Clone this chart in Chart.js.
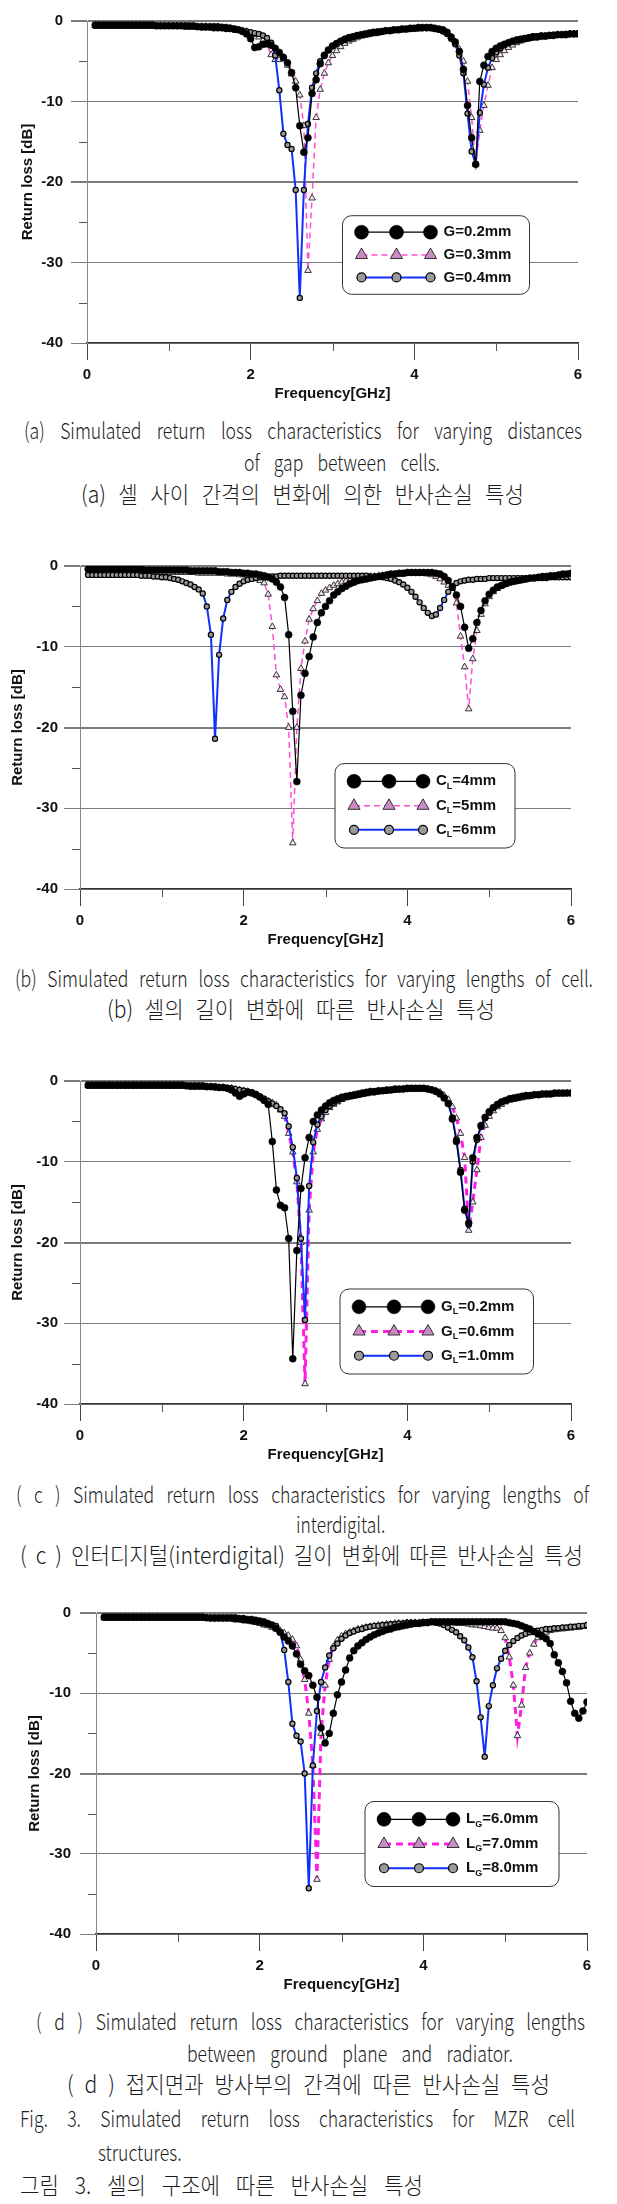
<!DOCTYPE html>
<html>
<head>
<meta charset="utf-8">
<script src="https://cdn.jsdelivr.net/npm/chart.js@4.4.1/dist/chart.umd.min.js"></script>
<style>
html, body { margin: 0; padding: 0; background: #fff; }
body { width: 617px; height: 2204px; position: relative; overflow: hidden; }
canvas { position: absolute; left: 0; }
.cap { position: absolute; white-space: nowrap; color: #1c1c1c; line-height: 28px; font-weight: 300;
       text-align: justify; text-align-last: justify; transform-origin: 0 50%; }
.en { font-family: 'Noto Sans CJK KR', 'Noto Sans', sans-serif; font-size: 22px; }
.ko { font-family: 'Noto Sans CJK KR', sans-serif; font-size: 23px; }
.word { text-align-last: left; }
</style>
</head>
<body>
<canvas id="c0"></canvas>
<canvas id="c1"></canvas>
<canvas id="c2"></canvas>
<canvas id="c3"></canvas>
<script>
// frequency sweep (GHz), shared by every curve
const freqGHz = [
  0.10,0.15,0.20,0.25,0.30,0.35,0.40,0.45,0.50,0.55,
  0.60,0.65,0.70,0.75,0.80,0.85,0.90,0.95,1.00,1.05,
  1.10,1.15,1.20,1.25,1.30,1.35,1.40,1.45,1.50,1.55,
  1.60,1.65,1.70,1.75,1.80,1.85,1.90,1.95,2.00,2.05,
  2.10,2.15,2.20,2.25,2.30,2.35,2.40,2.45,2.50,2.55,
  2.60,2.65,2.70,2.75,2.80,2.85,2.90,2.95,3.00,3.05,
  3.10,3.15,3.20,3.25,3.30,3.35,3.40,3.45,3.50,3.55,
  3.60,3.65,3.70,3.75,3.80,3.85,3.90,3.95,4.00,4.05,
  4.10,4.15,4.20,4.25,4.30,4.35,4.40,4.45,4.50,4.55,
  4.60,4.65,4.70,4.75,4.80,4.85,4.90,4.95,5.00,5.05,
  5.10,5.15,5.20,5.25,5.30,5.35,5.40,5.45,5.50,5.55,
  5.60,5.65,5.70,5.75,5.80,5.85,5.90,5.95,6.00
];

// (a) gap between cells
const g02 = [
  -0.5,-0.5,-0.5,-0.5,-0.5,-0.5,-0.5,-0.5,-0.5,-0.5,
  -0.5,-0.5,-0.5,-0.5,-0.5,-0.6,-0.6,-0.6,-0.6,-0.6,
  -0.6,-0.6,-0.6,-0.6,-0.6,-0.7,-0.7,-0.7,-0.7,-0.7,
  -0.7,-0.8,-0.8,-0.9,-1.0,-1.1,-1.3,-1.6,-2.2,-3.3,
  -3.2,-2.9,-2.8,-3.0,-3.4,-3.9,-4.5,-5.2,-6.4,-8.3,
  -13.0,-16.3,-14.5,-9.0,-7.3,-5.3,-4.3,-3.6,-3.1,-2.8,
  -2.5,-2.3,-2.1,-2.0,-1.8,-1.7,-1.6,-1.5,-1.4,-1.4,
  -1.3,-1.2,-1.2,-1.1,-1.1,-1.0,-1.0,-0.9,-0.9,-0.8,
  -0.8,-0.8,-0.8,-0.9,-1.0,-1.1,-1.4,-2.0,-2.6,-3.8,
  -6.0,-10.5,-14.5,-17.8,-7.5,-5.5,-4.4,-3.8,-3.4,-3.1,
  -2.9,-2.7,-2.5,-2.4,-2.3,-2.2,-2.1,-2.0,-2.0,-1.9,
  -1.9,-1.8,-1.8,-1.7,-1.7,-1.7,-1.6,-1.6,-1.6
];
const g03 = [
  -0.6,-0.6,-0.6,-0.6,-0.6,-0.6,-0.6,-0.6,-0.6,-0.6,
  -0.6,-0.6,-0.6,-0.6,-0.6,-0.6,-0.6,-0.6,-0.6,-0.6,
  -0.6,-0.6,-0.6,-0.7,-0.7,-0.7,-0.7,-0.7,-0.8,-0.8,
  -0.8,-0.8,-0.9,-0.9,-1.0,-1.1,-1.2,-1.3,-1.5,-1.7,
  -2.0,-2.4,-3.0,-4.2,-4.8,-4.8,-4.7,-5.5,-6.6,-7.5,
  -9.2,-13.0,-31.0,-22.0,-12.0,-8.5,-6.5,-5.2,-4.3,-3.7,
  -3.2,-2.8,-2.5,-2.3,-2.1,-1.9,-1.8,-1.7,-1.6,-1.5,
  -1.4,-1.3,-1.3,-1.2,-1.2,-1.1,-1.1,-1.0,-1.0,-1.0,
  -0.9,-0.9,-0.9,-1.0,-1.1,-1.2,-1.5,-2.0,-2.6,-3.5,
  -5.0,-7.5,-12.0,-17.8,-13.6,-10.5,-8.0,-5.8,-4.8,-4.2,
  -3.7,-3.3,-3.0,-2.7,-2.5,-2.3,-2.2,-2.1,-2.0,-1.9,
  -1.9,-1.8,-1.8,-1.7,-1.7,-1.7,-1.6,-1.6,-1.6
];
const g04 = [
  -0.6,-0.6,-0.6,-0.6,-0.6,-0.6,-0.6,-0.6,-0.6,-0.6,
  -0.6,-0.6,-0.6,-0.6,-0.6,-0.6,-0.6,-0.6,-0.6,-0.6,
  -0.6,-0.6,-0.7,-0.7,-0.7,-0.7,-0.8,-0.8,-0.8,-0.9,
  -0.9,-0.9,-1.0,-1.0,-1.1,-1.1,-1.2,-1.3,-1.4,-1.5,
  -1.6,-1.8,-2.1,-2.7,-4.3,-8.6,-14.0,-15.4,-15.9,-21.0,
  -34.4,-21.0,-12.8,-8.3,-6.5,-5.0,-4.2,-3.6,-3.1,-2.8,
  -2.5,-2.2,-2.0,-1.9,-1.8,-1.7,-1.6,-1.5,-1.4,-1.3,
  -1.3,-1.2,-1.2,-1.1,-1.1,-1.0,-1.0,-1.0,-0.9,-0.9,
  -0.9,-0.9,-0.9,-1.0,-1.1,-1.3,-1.6,-2.2,-2.9,-4.3,
  -6.5,-11.5,-16.2,-17.8,-11.4,-7.9,-5.8,-4.6,-3.9,-3.4,
  -3.0,-2.7,-2.5,-2.3,-2.2,-2.1,-2.0,-1.9,-1.9,-1.8,
  -1.8,-1.8,-1.7,-1.7,-1.7,-1.6,-1.6,-1.6,-1.5
];

// (b) cell length
const cl4 = [
  -0.4,-0.4,-0.4,-0.4,-0.4,-0.4,-0.4,-0.4,-0.4,-0.4,
  -0.4,-0.4,-0.4,-0.4,-0.5,-0.5,-0.5,-0.5,-0.5,-0.5,
  -0.5,-0.5,-0.5,-0.5,-0.5,-0.6,-0.6,-0.6,-0.6,-0.6,
  -0.6,-0.6,-0.7,-0.7,-0.7,-0.8,-0.8,-0.8,-0.9,-0.9,
  -1.0,-1.0,-1.1,-1.2,-1.4,-1.6,-2.0,-2.6,-3.9,-8.5,
  -18.0,-26.7,-16.0,-13.3,-11.2,-8.8,-7.0,-5.8,-5.0,-4.3,
  -3.6,-3.2,-2.8,-2.5,-2.2,-2.0,-1.8,-1.7,-1.6,-1.5,
  -1.4,-1.3,-1.2,-1.1,-1.0,-1.0,-0.9,-0.9,-0.8,-0.8,
  -0.8,-0.8,-0.8,-0.8,-0.8,-0.9,-1.0,-1.3,-1.8,-2.6,
  -3.6,-5.0,-7.6,-10.2,-9.0,-7.0,-5.5,-4.3,-3.5,-3.0,
  -2.6,-2.4,-2.2,-2.0,-1.9,-1.8,-1.7,-1.6,-1.5,-1.5,
  -1.4,-1.3,-1.3,-1.2,-1.2,-1.1,-1.0,-1.0,-0.9
];
const cl5 = [
  -0.8,-0.8,-0.8,-0.8,-0.8,-0.8,-0.8,-0.8,-0.8,-0.8,
  -0.8,-0.8,-0.8,-0.8,-0.8,-0.8,-0.8,-0.8,-0.8,-0.8,
  -0.8,-0.8,-0.8,-0.8,-0.8,-0.8,-0.8,-0.9,-0.9,-0.9,
  -0.9,-0.9,-0.9,-0.9,-1.0,-1.0,-1.0,-1.1,-1.1,-1.2,
  -1.3,-1.5,-1.8,-2.1,-3.5,-7.5,-13.5,-15.3,-16.2,-20.0,
  -34.3,-20.0,-12.7,-9.3,-6.6,-5.3,-4.3,-3.4,-3.0,-2.7,
  -2.4,-2.2,-2.0,-1.9,-1.8,-1.7,-1.6,-1.5,-1.4,-1.3,
  -1.3,-1.2,-1.2,-1.1,-1.1,-1.0,-1.0,-1.0,-0.9,-0.9,
  -0.9,-0.9,-0.9,-1.0,-1.1,-1.3,-1.6,-2.0,-2.4,-2.8,
  -4.6,-8.7,-12.5,-17.7,-11.5,-8.0,-6.0,-4.7,-3.8,-3.2,
  -2.8,-2.5,-2.3,-2.1,-2.0,-1.9,-1.8,-1.7,-1.6,-1.5,
  -1.5,-1.4,-1.4,-1.3,-1.3,-1.2,-1.2,-1.1,-1.1
];
const cl6 = [
  -1.1,-1.1,-1.1,-1.1,-1.1,-1.1,-1.1,-1.1,-1.1,-1.1,
  -1.1,-1.1,-1.1,-1.2,-1.2,-1.2,-1.3,-1.3,-1.4,-1.4,
  -1.5,-1.6,-1.7,-1.9,-2.1,-2.3,-2.6,-2.9,-3.4,-5.0,
  -8.5,-21.4,-11.0,-6.5,-4.2,-3.2,-2.6,-2.2,-1.9,-1.7,
  -1.6,-1.5,-1.4,-1.4,-1.3,-1.3,-1.3,-1.2,-1.2,-1.2,
  -1.2,-1.2,-1.2,-1.2,-1.2,-1.2,-1.2,-1.2,-1.2,-1.2,
  -1.2,-1.2,-1.2,-1.2,-1.2,-1.2,-1.2,-1.2,-1.2,-1.3,
  -1.3,-1.3,-1.4,-1.5,-1.6,-1.8,-2.0,-2.3,-2.7,-3.2,
  -3.8,-4.5,-5.2,-5.8,-6.2,-6.0,-5.2,-4.2,-3.2,-2.5,
  -2.1,-1.9,-1.8,-1.7,-1.7,-1.6,-1.6,-1.6,-1.5,-1.5,
  -1.5,-1.5,-1.5,-1.5,-1.5,-1.5,-1.5,-1.5,-1.5,-1.5,
  -1.5,-1.5,-1.5,-1.4,-1.4,-1.4,-1.4,-1.4,-1.4
];

// (c) interdigital length
const gl02 = [
  -0.5,-0.5,-0.5,-0.5,-0.5,-0.5,-0.5,-0.5,-0.5,-0.5,
  -0.5,-0.5,-0.5,-0.5,-0.5,-0.5,-0.5,-0.5,-0.5,-0.5,
  -0.5,-0.5,-0.5,-0.5,-0.6,-0.6,-0.6,-0.6,-0.6,-0.7,
  -0.7,-0.7,-0.8,-0.8,-0.9,-1.1,-1.5,-1.9,-1.6,-1.4,
  -1.5,-1.7,-2.0,-2.4,-2.9,-7.5,-13.5,-15.4,-15.7,-19.5,
  -34.4,-21.0,-13.3,-9.5,-7.0,-5.0,-4.2,-3.6,-3.1,-2.7,
  -2.4,-2.2,-2.0,-1.9,-1.8,-1.7,-1.6,-1.5,-1.4,-1.3,
  -1.3,-1.2,-1.2,-1.1,-1.1,-1.0,-1.0,-1.0,-0.9,-0.9,
  -0.9,-0.9,-0.9,-1.0,-1.1,-1.3,-1.6,-2.1,-2.8,-4.7,
  -7.5,-11.3,-16.0,-17.6,-9.5,-7.0,-5.5,-4.5,-3.8,-3.3,
  -2.9,-2.6,-2.4,-2.2,-2.1,-2.0,-1.9,-1.8,-1.8,-1.7,
  -1.7,-1.6,-1.6,-1.6,-1.5,-1.5,-1.5,-1.5,-1.5
];
const gl06 = [
  -0.6,-0.6,-0.6,-0.6,-0.6,-0.6,-0.6,-0.6,-0.6,-0.6,
  -0.6,-0.6,-0.6,-0.6,-0.6,-0.6,-0.6,-0.6,-0.6,-0.6,
  -0.6,-0.6,-0.6,-0.6,-0.6,-0.7,-0.7,-0.7,-0.7,-0.7,
  -0.7,-0.8,-0.8,-0.8,-0.9,-0.9,-1.0,-1.1,-1.2,-1.3,
  -1.5,-1.7,-2.0,-2.3,-2.5,-2.7,-3.0,-3.6,-4.4,-6.5,
  -8.8,-12.5,-20.0,-37.5,-16.0,-8.8,-6.0,-4.7,-3.9,-3.3,
  -2.9,-2.6,-2.3,-2.1,-2.0,-1.9,-1.8,-1.7,-1.6,-1.5,
  -1.4,-1.3,-1.3,-1.2,-1.2,-1.1,-1.1,-1.0,-1.0,-1.0,
  -1.0,-1.0,-1.0,-1.0,-1.1,-1.2,-1.4,-1.8,-2.3,-3.2,
  -4.6,-6.5,-9.5,-18.5,-15.0,-11.0,-7.0,-5.5,-4.4,-3.7,
  -3.2,-2.9,-2.6,-2.4,-2.3,-2.2,-2.1,-2.0,-1.9,-1.8,
  -1.8,-1.7,-1.7,-1.7,-1.6,-1.6,-1.6,-1.5,-1.5
];
const gl10 = [
  -0.6,-0.6,-0.6,-0.6,-0.6,-0.6,-0.6,-0.6,-0.6,-0.6,
  -0.6,-0.6,-0.6,-0.6,-0.6,-0.6,-0.6,-0.6,-0.6,-0.6,
  -0.6,-0.6,-0.6,-0.6,-0.6,-0.7,-0.7,-0.7,-0.7,-0.7,
  -0.7,-0.8,-0.8,-0.8,-0.9,-0.9,-1.0,-1.1,-1.2,-1.3,
  -1.4,-1.6,-1.9,-2.2,-2.5,-2.8,-3.1,-3.5,-4.0,-5.6,
  -8.2,-12.0,-19.5,-29.6,-13.0,-7.6,-5.4,-4.4,-3.6,-3.1,
  -2.7,-2.4,-2.2,-2.0,-1.9,-1.8,-1.7,-1.6,-1.5,-1.4,
  -1.4,-1.3,-1.2,-1.2,-1.1,-1.1,-1.0,-1.0,-1.0,-0.9,
  -0.9,-0.9,-0.9,-1.0,-1.1,-1.3,-1.6,-2.1,-2.8,-4.5,
  -7.2,-11.0,-15.8,-17.8,-10.0,-7.3,-5.7,-4.6,-3.9,-3.3,
  -2.9,-2.6,-2.4,-2.2,-2.1,-2.0,-1.9,-1.8,-1.8,-1.7,
  -1.7,-1.6,-1.6,-1.6,-1.5,-1.5,-1.5,-1.5,-1.5
];

// (d) ground plane to radiator spacing
const lg60 = [
  -0.5,-0.5,-0.5,-0.5,-0.5,-0.5,-0.5,-0.5,-0.5,-0.5,
  -0.5,-0.5,-0.5,-0.5,-0.5,-0.5,-0.5,-0.5,-0.5,-0.5,
  -0.5,-0.5,-0.5,-0.5,-0.5,-0.6,-0.6,-0.6,-0.6,-0.6,
  -0.6,-0.6,-0.6,-0.7,-0.7,-0.8,-0.8,-0.9,-1.0,-1.1,
  -1.3,-1.5,-1.9,-2.4,-3.0,-3.5,-4.1,-5.1,-6.4,-7.2,
  -7.8,-9.0,-10.5,-14.3,-16.2,-15.0,-12.5,-10.2,-8.6,-7.1,
  -5.6,-4.7,-4.1,-3.7,-3.3,-3.0,-2.7,-2.5,-2.3,-2.1,
  -2.0,-1.8,-1.7,-1.6,-1.5,-1.4,-1.3,-1.3,-1.2,-1.2,
  -1.1,-1.1,-1.1,-1.1,-1.1,-1.1,-1.1,-1.1,-1.1,-1.1,
  -1.1,-1.1,-1.1,-1.1,-1.1,-1.1,-1.1,-1.1,-1.1,-1.2,
  -1.3,-1.4,-1.6,-1.8,-2.0,-2.3,-2.6,-2.9,-3.2,-3.8,
  -5.2,-6.2,-7.3,-8.7,-11.0,-12.5,-13.1,-12.2,-11.1
];
const lg70 = [
  -0.6,-0.6,-0.6,-0.6,-0.6,-0.6,-0.6,-0.6,-0.6,-0.6,
  -0.6,-0.6,-0.6,-0.6,-0.6,-0.6,-0.6,-0.6,-0.6,-0.6,
  -0.6,-0.6,-0.6,-0.6,-0.6,-0.6,-0.7,-0.7,-0.7,-0.7,
  -0.7,-0.7,-0.8,-0.8,-0.9,-1.0,-1.1,-1.2,-1.3,-1.5,
  -1.6,-1.8,-2.0,-2.2,-2.5,-2.8,-3.3,-4.1,-5.8,-8.3,
  -12.5,-19.0,-33.2,-15.0,-9.0,-5.8,-4.2,-3.4,-2.9,-2.6,
  -2.4,-2.2,-2.0,-1.9,-1.8,-1.7,-1.6,-1.5,-1.5,-1.4,
  -1.4,-1.3,-1.3,-1.3,-1.2,-1.2,-1.2,-1.2,-1.2,-1.2,
  -1.2,-1.2,-1.2,-1.2,-1.2,-1.2,-1.3,-1.3,-1.3,-1.4,
  -1.5,-1.5,-1.6,-1.7,-1.8,-1.9,-1.9,-2.2,-3.1,-5.5,
  -9.0,-15.3,-11.5,-6.8,-5.0,-3.9,-3.1,-2.7,-2.4,-2.2,
  -2.1,-2.0,-2.0,-1.9,-1.9,-1.8,-1.8,-1.7,-1.7
];
const lg80 = [
  -0.6,-0.6,-0.6,-0.6,-0.6,-0.6,-0.6,-0.6,-0.6,-0.6,
  -0.6,-0.6,-0.6,-0.6,-0.6,-0.6,-0.6,-0.6,-0.6,-0.6,
  -0.6,-0.6,-0.6,-0.6,-0.6,-0.6,-0.7,-0.7,-0.7,-0.7,
  -0.7,-0.7,-0.8,-0.8,-0.9,-0.9,-1.0,-1.1,-1.2,-1.3,
  -1.4,-1.5,-1.6,-2.4,-4.6,-8.6,-13.8,-15.3,-16.0,-20.0,
  -34.3,-19.0,-12.2,-8.6,-6.8,-5.3,-4.4,-3.8,-3.2,-2.8,
  -2.5,-2.3,-2.1,-2.0,-1.8,-1.7,-1.6,-1.6,-1.5,-1.5,
  -1.4,-1.4,-1.3,-1.3,-1.2,-1.2,-1.2,-1.2,-1.1,-1.1,
  -1.1,-1.2,-1.3,-1.5,-1.8,-2.1,-2.4,-2.9,-3.4,-4.3,
  -5.5,-8.5,-13.0,-17.9,-11.6,-9.0,-6.9,-5.7,-4.7,-4.0,
  -3.5,-3.1,-2.8,-2.6,-2.4,-2.3,-2.2,-2.1,-2.0,-2.0,
  -1.9,-1.9,-1.8,-1.8,-1.7,-1.7,-1.6,-1.6,-1.5
];

// legend names: [letter, subscript, rest]
const namesA = [['G', '', '=0.2mm'], ['G', '', '=0.3mm'], ['G', '', '=0.4mm']];
const namesB = [['C', 'L', '=4mm'], ['C', 'L', '=5mm'], ['C', 'L', '=6mm']];
const namesC = [['G', 'L', '=0.2mm'], ['G', 'L', '=0.6mm'], ['G', 'L', '=1.0mm']];
const namesD = [['L', 'G', '=6.0mm'], ['L', 'G', '=7.0mm'], ['L', 'G', '=8.0mm']];

const xMajor = [0, 2, 4, 6];
const xMinor = [1, 3, 5];
const yMajor = [0, -10, -20, -30, -40];
const yMinor = [-5, -15, -25, -35];

// page geometry of each plot (px)
const frames = [
  { top: 16,   bottom: 343,  left: 87, right: 578, titleX: 27.5, labPad: 8, wide: false, legend: [342.5, 215.7, 529.5, 294.3] },
  { top: 563,  bottom: 889,  left: 80, right: 571, titleX: 18,   labPad: 6, wide: false, legend: [335, 763.6, 515, 848] },
  { top: 1078, bottom: 1404, left: 80, right: 571, titleX: 18,   labPad: 6, wide: true,  legend: [340, 1289, 533.5, 1374] },
  { top: 1607, bottom: 1934, left: 96, right: 587, titleX: 35,   labPad: 9, wide: true,  legend: [365, 1801.5, 559, 1886.5] }
];

const panels = [
  { series: [g02, g03, g04], names: namesA },
  { series: [cl4, cl5, cl6], names: namesB },
  { series: [gl02, gl06, gl10], names: namesC },
  { series: [lg60, lg70, lg80], names: namesD }
];

const axisFont = { family: "'Liberation Sans', Arial, sans-serif", size: 15, weight: 'bold' };
const HEAD = 12, XAXIS_H = 62;

function roundedBox(ctx, x, y, w, h, r) {
  ctx.beginPath();
  ctx.moveTo(x + r, y);
  ctx.arcTo(x + w, y, x + w, y + h, r);
  ctx.arcTo(x + w, y + h, x, y + h, r);
  ctx.arcTo(x, y + h, x, y, r);
  ctx.arcTo(x, y, x + w, y, r);
  ctx.closePath();
}

const minorTicks = {
  id: 'minorTicks',
  afterDraw(chart) {
    const { ctx, scales: { x, y } } = chart;
    ctx.save();
    ctx.strokeStyle = '#555';
    ctx.lineWidth = 1;
    xMinor.forEach(v => {
      const px = Math.round(x.getPixelForValue(v)) + 0.5;
      ctx.beginPath(); ctx.moveTo(px, y.bottom); ctx.lineTo(px, y.bottom + 8); ctx.stroke();
    });
    yMinor.forEach(v => {
      const py = Math.round(y.getPixelForValue(v)) + 0.5;
      ctx.beginPath(); ctx.moveTo(x.left - 8, py); ctx.lineTo(x.left, py); ctx.stroke();
    });
    ctx.restore();
  }
};

const boxLegend = {
  id: 'boxLegend',
  afterDraw(chart, args, opts) {
    const { ctx } = chart;
    const [x1, y1, x2, y2] = opts.rect;
    const h = y2 - y1;
    ctx.save();
    roundedBox(ctx, x1, y1, x2 - x1, h, 9);
    ctx.fillStyle = '#fff';
    ctx.fill();
    ctx.strokeStyle = '#333';
    ctx.lineWidth = 1;
    ctx.stroke();
    const rows = [0.21, 0.5, 0.785];
    const marks = [x1 + 19, x1 + 54, x1 + 88];
    chart.data.datasets.forEach((ds, i) => {
      const ry = y1 + h * rows[i];
      ctx.setLineDash(ds.borderDash || []);
      ctx.strokeStyle = ds.borderColor;
      ctx.lineWidth = ds.borderWidth;
      ctx.beginPath(); ctx.moveTo(marks[0], ry); ctx.lineTo(marks[2], ry); ctx.stroke();
      ctx.setLineDash([]);
      marks.forEach(mx => {
        ctx.fillStyle = ds.legendFill || ds.pointBackgroundColor;
        ctx.strokeStyle = ds.pointBorderColor;
        ctx.lineWidth = ds.pointBorderWidth;
        Chart.helpers.drawPoint(ctx, { pointStyle: ds.pointStyle, radius: ds.legendRadius,
          borderWidth: ds.pointBorderWidth, rotation: 0 }, mx, ry);
      });
      const [main, sub, rest] = opts.names[i];
      let tx = x1 + 101;
      ctx.fillStyle = '#111';
      ctx.textBaseline = 'middle';
      ctx.font = "bold 15px 'Liberation Sans', Arial, sans-serif";
      ctx.fillText(main, tx, ry);
      tx += ctx.measureText(main).width;
      if (sub) {
        ctx.font = "bold 9px 'Liberation Sans', Arial, sans-serif";
        ctx.fillText(sub, tx, ry + 5);
        tx += ctx.measureText(sub).width;
        ctx.font = "bold 15px 'Liberation Sans', Arial, sans-serif";
      }
      ctx.fillText(rest, tx, ry);
    });
    ctx.restore();
  }
};

function makeDatasets(series, wide) {
  const pts = arr => freqGHz.map((f, i) => ({ x: f, y: arr[i] }));
  return [
    { data: pts(series[0]), order: 1, borderColor: '#000', borderWidth: 1.2,
      pointStyle: 'circle', pointRadius: 3.5, pointBackgroundColor: '#000',
      pointBorderColor: '#000', pointBorderWidth: 0.5, legendRadius: 7 },
    { data: pts(series[1]), order: 3, borderColor: wide ? '#ff1ee0' : '#ff4fd8',
      borderWidth: wide ? 3 : 1.5, borderDash: wide ? [7, 5] : [6, 4],
      pointStyle: 'triangle', pointRadius: 3.8, pointBackgroundColor: '#f3e0f0',
      legendFill: '#c98cc6',
      pointBorderColor: '#222', pointBorderWidth: 0.9, legendRadius: 7 },
    { data: pts(series[2]), order: 2, borderColor: '#1030ff', borderWidth: 2,
      pointStyle: 'circle', pointRadius: 2.6, pointBackgroundColor: '#9a9a9a',
      pointBorderColor: '#000', pointBorderWidth: 1.2, legendRadius: 4.5 }
  ];
}

panels.forEach((p, k) => {
  const fr = frames[k];
  const canvasTop = fr.top - HEAD;
  const el = document.getElementById('c' + k);
  el.width = 617;
  el.height = fr.bottom + XAXIS_H - canvasTop;
  el.style.top = canvasTop + 'px';
  const lg = fr.legend;
  new Chart(el, {
    type: 'line',
    data: { datasets: makeDatasets(p.series, fr.wide) },
    options: {
      responsive: false,
      animation: false,
      devicePixelRatio: 1,
      layout: { padding: { top: HEAD, left: 0, right: 617 - fr.right, bottom: 0 } },
      elements: { line: { tension: 0 } },
      plugins: {
        legend: { display: false },
        tooltip: { enabled: false },
        boxLegend: { rect: [lg[0], lg[1] - canvasTop, lg[2], lg[3] - canvasTop], names: p.names }
      },
      scales: {
        x: {
          type: 'linear', min: 0, max: 6,
          afterFit: s => { s.height = XAXIS_H; },
          ticks: { stepSize: 1, autoSkip: false, maxRotation: 0, padding: 6, color: '#111', font: axisFont,
                   callback: v => xMajor.includes(v) ? String(v) : '' },
          grid: { drawOnChartArea: false, drawTicks: true, tickLength: 17,
                  color: c => (c.tick && xMajor.includes(c.tick.value)) ? '#444' : 'rgba(0,0,0,0)' },
          border: { display: true, color: '#333', width: 1.2 },
          title: { display: true, text: 'Frequency[GHz]', color: '#111', font: axisFont,
                   padding: { top: 0, bottom: 2 } }
        },
        y: {
          min: -40, max: 0,
          afterFit: s => { s.width = fr.left; },
          ticks: { stepSize: 5, autoSkip: false, padding: fr.labPad, color: '#111', font: axisFont,
                   callback: v => yMajor.includes(v) ? String(v) : '' },
          grid: { drawTicks: true, tickLength: 16,
                  color: c => (c.tick && yMajor.includes(c.tick.value)) ? '#7a7a7a' : 'rgba(0,0,0,0)',
                  lineWidth: c => (c.tick && (c.tick.value === 0 || c.tick.value === -20)) ? 2 : 1 },
          border: { display: true, color: '#888', width: 1 },
          title: { display: true, text: 'Return loss [dB]', color: '#111', font: axisFont,
                   padding: { top: fr.titleX - 9, bottom: 0 } }
        }
      }
    },
    plugins: [minorTicks, boxLegend]
  });
});

// captions: [text, centre y, left, right, script]
const captions = [
  ['(a) Simulated return loss characteristics for varying distances', 428.6, 24, 582, 'en'],
  ['of gap between cells.', 461, 244, 440, 'en'],
  ['(a) 셀 사이 간격의 변화에 의한 반사손실 특성', 493, 81, 524, 'ko'],
  ['(b) Simulated return loss characteristics for varying lengths of cell.', 977, 15, 593, 'en'],
  ['(b) 셀의 길이 변화에 따른 반사손실 특성', 1008, 107, 495, 'ko'],
  ['( c ) Simulated return loss characteristics for varying lengths of', 1493, 16, 589, 'en'],
  ['interdigital.', 1523, 296, 388, 'en'],
  ['( c ) 인터디지털(interdigital) 길이 변화에 따른 반사손실 특성', 1554, 20, 583, 'ko'],
  ['( d ) Simulated return loss characteristics for varying lengths', 2020, 36, 585, 'en'],
  ['between ground plane and radiator.', 2052, 187, 513, 'en'],
  ['( d ) 접지면과 방사부의 간격에 따른 반사손실 특성', 2083, 67, 550, 'ko'],
  ['Fig.  3. Simulated return loss characteristics for MZR cell', 2117, 20, 575, 'en'],
  ['structures.', 2151, 98, 194, 'en'],
  ['그림 3. 셀의 구조에 따른 반사손실 특성', 2184, 20, 423, 'ko']
];
captions.forEach(([text, cy, l, r, script]) => {
  const d = document.createElement('div');
  const single = text.indexOf(' ') < 0;
  d.className = 'cap ' + script + (single ? ' word' : '');
  d.textContent = text;
  d.style.left = l + 'px';
  d.style.top = (cy - 14) + 'px';
  document.body.appendChild(d);
  // natural width, then squeeze so the justified line spans l..r
  const natural = d.getBoundingClientRect().width;
  let sx = script === 'en' ? 0.8 : 0.92;
  const target = r - l;
  if (natural * sx > target * 0.97) sx = target * 0.97 / natural;
  if (single) sx = Math.min(sx, target / natural);
  d.style.width = (target / sx) + 'px';
  d.style.transform = 'scaleX(' + sx + ')';
});
</script>
</body>
</html>
